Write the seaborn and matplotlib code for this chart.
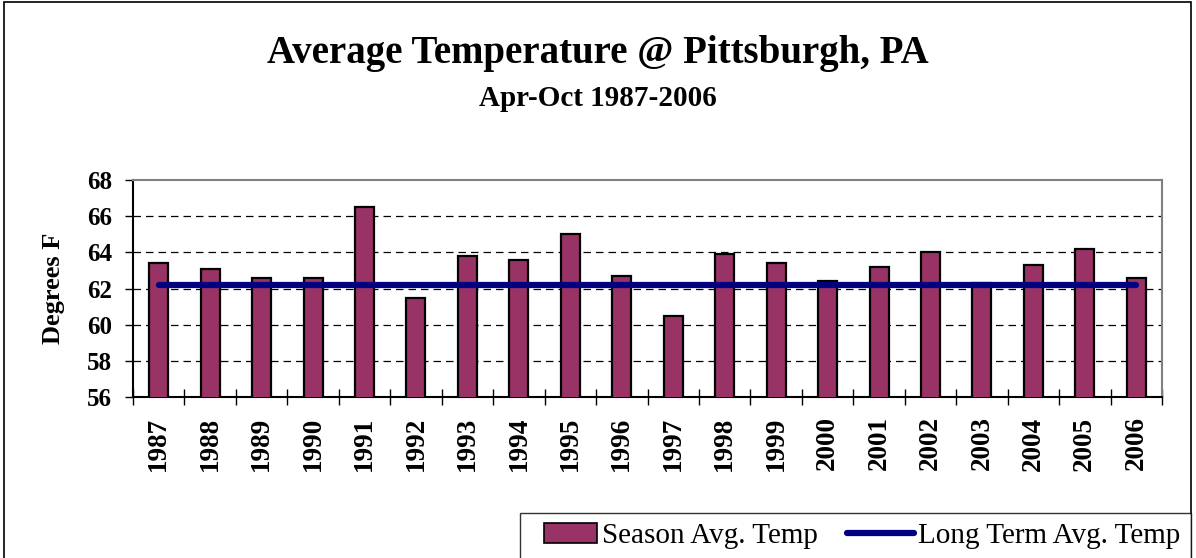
import matplotlib
matplotlib.use("Agg")
import matplotlib.pyplot as plt
import seaborn as sns
import pandas as pd
from matplotlib.patches import Patch, Rectangle
from matplotlib.lines import Line2D
from matplotlib.legend_handler import HandlerPatch

years = ["1987", "1988", "1989", "1990", "1991", "1992", "1993", "1994", "1995", "1996",
         "1997", "1998", "1999", "2000", "2001", "2002", "2003", "2004", "2005", "2006"]
season_avg = [63.4, 63.1, 62.6, 62.6, 66.5, 61.5, 63.8, 63.6, 65.0, 62.7,
              60.5, 63.9, 63.4, 62.4, 63.2, 64.0, 62.3, 63.3, 64.2, 62.6]
long_term_avg = 62.2
y_ticks = [56, 58, 60, 62, 64, 66, 68]

title = "Average Temperature @ Pittsburgh, PA"
subtitle = "Apr-Oct 1987-2006"
y_label = "Degrees F"
series_names = ["Season Avg. Temp", "Long Term Avg. Temp"]

sns.set_theme(style="white")
plt.rcParams["font.family"] = ["Liberation Serif", "DejaVu Serif"]
for k in ["text.color", "axes.labelcolor", "xtick.color", "ytick.color"]:
    plt.rcParams[k] = "black"

BAR = "#993366"
LINE = "#000080"

df = pd.DataFrame({"year": years, "temp": season_avg,
                   "long": [long_term_avg] * len(years)})

fig = plt.figure(figsize=(11.96, 5.58), dpi=100)
ax = fig.add_axes([133 / 1196, 1 - 397 / 558, (1162 - 133) / 1196, (397 - 180) / 558])

sns.barplot(data=df, x="year", y="temp", color=BAR, edgecolor="black",
            linewidth=1.6, width=0.37, saturation=1, ax=ax, zorder=3)
sns.lineplot(data=df, x="year", y="long", color=LINE, linewidth=4.5,
             solid_capstyle="round", ax=ax, zorder=4)

ax.set_ylim(56, 68)
ax.set_xlim(-0.5, len(years) - 0.5)
ax.set_yticks(y_ticks)
ax.set_yticklabels([str(t) for t in y_ticks], fontsize=18, fontweight="bold")
ax.set_xticks(range(len(years)))
ax.set_xticklabels(years, rotation=90, fontsize=19.5, fontweight="bold")
ax.tick_params(axis="x", which="major", length=0, pad=14)
ax.set_xticks([i - 0.5 for i in range(len(years) + 1)], minor=True)
ax.tick_params(axis="x", which="minor", direction="inout", length=12,
               width=1, color="black", bottom=True)
ax.tick_params(axis="y", which="major", direction="out", length=6, width=1,
               color="black", left=True, pad=9)

for g in y_ticks[1:-1]:
    ax.axhline(g, color="black", linewidth=0.9, linestyle=(0, (6, 4)), zorder=1)

ax.set_xlabel("")
ax.set_ylabel(y_label, fontsize=19, fontweight="bold", labelpad=16)

for s in ["left", "bottom"]:
    ax.spines[s].set_color("black")
    ax.spines[s].set_linewidth(1.5)
for s in ["top", "right"]:
    ax.spines[s].set_color("#808080")
    ax.spines[s].set_linewidth(1.5)
for s in ax.spines.values():
    s.set_visible(True)

fig.text(0.5, 1 - 63 / 558, title, ha="center", va="baseline",
         fontsize=28, fontweight="bold")
fig.text(0.5, 1 - 106 / 558, subtitle, ha="center", va="baseline",
         fontsize=21, fontweight="bold")


def right_patch(legend, orig_handle, xdescent, ydescent, width, height, fontsize):
    pw = width * 0.8
    return Rectangle((-xdescent + width - pw, -ydescent), pw, height)


handles = [Patch(facecolor=BAR, edgecolor="black", linewidth=1.2),
           Line2D([0], [0], color=LINE, linewidth=4.5, solid_capstyle="round")]
leg = fig.legend(handles, series_names, loc="upper left",
                 bbox_to_anchor=(520 / 1196, 1 - 513 / 558), ncol=2,
                 fontsize=21, frameon=True, fancybox=False, edgecolor="black",
                 handlelength=2.3, handleheight=0.65, handletextpad=0.15,
                 columnspacing=1.0, borderpad=0.35, borderaxespad=0,
                 handler_map={Patch: HandlerPatch(patch_func=right_patch)})
leg.get_frame().set_linewidth(1.0)

fig.patches.append(Rectangle((4 / 1196, -0.1), 1187 / 1196, 1.1 - 2 / 558,
                             transform=fig.transFigure, fill=False,
                             edgecolor="black", linewidth=1.2))

fig.savefig("out.png", dpi=100)
